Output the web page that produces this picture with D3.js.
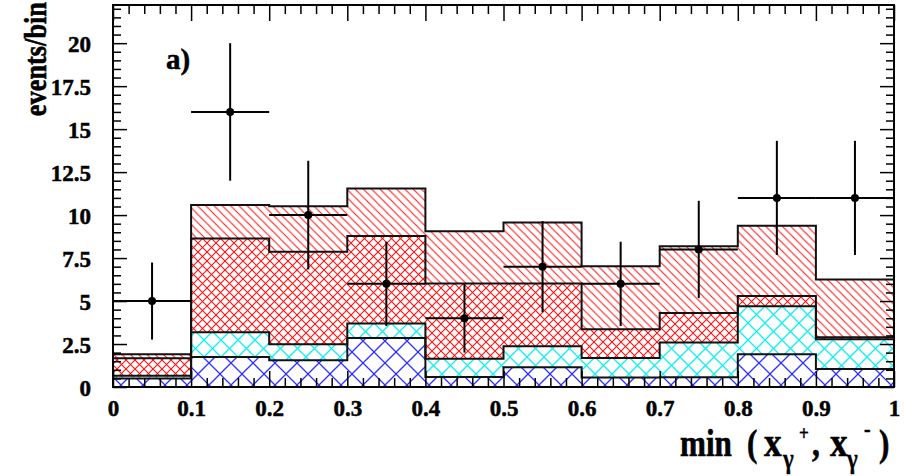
<!DOCTYPE html>
<html><head><meta charset="utf-8">
<script src="https://cdn.jsdelivr.net/npm/d3@7"></script>
<style>
html,body{margin:0;padding:0;background:#fff;}
svg{display:block;}
text{font-family:"Liberation Serif","DejaVu Serif",serif;font-weight:bold;fill:#000;}
</style></head>
<body>
<svg id="chart" width="906" height="476"></svg>
<script>
// ---- data ----
const binEdges = [0, 0.1, 0.2, 0.3, 0.4, 0.5, 0.6, 0.7, 0.8, 0.9, 1.0];
const binCenters = [0.05, 0.15, 0.25, 0.35, 0.45, 0.55, 0.65, 0.75, 0.85, 0.95];
// stacked background components (events per bin), bottom to top
const blueComp   = [0.50, 1.75, 1.55, 2.85, 0.58, 1.15, 0.55, 0.57, 1.90, 1.05];
const cyanComp   = [0.16, 1.43, 0.94, 0.84, 1.07, 1.22, 1.14, 2.02, 2.80, 1.73];
const redXComp   = [1.01, 5.46, 5.37, 5.09, 4.37, 3.65, 1.67, 1.72, 0.60, 0.12];
const redHComp   = [0.23, 1.94, 2.66, 2.77, 3.04, 3.55, 3.67, 3.88, 4.08, 3.36];
// data points
const dataValues = [5, 16, 10, 6, 4, 7, 6, 8, 11, 11];
const dataErrors = [2.24, 4.0, 3.16, 2.45, 2.0, 2.65, 2.45, 2.83, 3.32, 3.32];
// axis ticks
const xTickLabels = ["0", "0.1", "0.2", "0.3", "0.4", "0.5", "0.6", "0.7", "0.8", "0.9", "1"];
const yTickValues = [0, 2.5, 5, 7.5, 10, 12.5, 15, 17.5, 20];
const yTickLabels = ["0", "2.5", "5", "7.5", "10", "12.5", "15", "17.5", "20"];

// ---- layout ----
const L = 113, R = 894, T = 5, B = 387;
const svg = d3.select("#chart");
const x = d3.scaleLinear().domain([0, 1]).range([L, R]);
const y = d3.scaleLinear().domain([0, 22.22]).range([B, T]);

// patterns (diagonal lines drawn directly in the tile)
const defs = svg.append("defs");
function pattern(id, w, color, sw, cross) {
  const p = defs.append("pattern").attr("id", id).attr("patternUnits", "userSpaceOnUse")
    .attr("width", w).attr("height", w);
  p.append("rect").attr("width", w).attr("height", w).attr("fill", "#fff");
  p.append("path").attr("d", `M${-w},0 L${w},${2 * w} M0,${-w} L${2 * w},${w} M${-w / 2},${-w / 2} L${w * 1.5},${w * 1.5}`)
    .attr("stroke", color).attr("stroke-width", sw).attr("fill", "none");
  if (cross) p.append("path").attr("d", `M${-w / 2},${w * 1.5} L${w * 1.5},${-w / 2}`)
    .attr("stroke", color).attr("stroke-width", sw).attr("fill", "none");
}
pattern("pBlue", 22, "#3030ff", 1.3, true);
pattern("pCyan", 17, "#10f0f0", 1.3, true);
pattern("pRedX", 9, "#ff1010", 1.1, true);
pattern("pRedH", 8.3, "#ff1a1a", 1.1, false);
defs.append("clipPath").attr("id", "plotClip").append("rect")
  .attr("x", L).attr("y", T).attr("width", R - L).attr("height", B - T);

// stack
const rows = binCenters.map((c, i) => ({blue: blueComp[i], cyan: cyanComp[i], redX: redXComp[i], redH: redHComp[i]}));
const keys = ["blue", "cyan", "redX", "redH"];
const fills = {blue: "url(#pBlue)", cyan: "url(#pCyan)", redX: "url(#pRedX)", redH: "url(#pRedH)"};
const stacked = d3.stack().keys(keys)(rows);

const g = svg.append("g").attr("clip-path", "url(#plotClip)");
const idx = d3.range(binEdges.length);
stacked.forEach(layer => {
  const a = d3.area().curve(d3.curveStepAfter)
    .x(j => x(binEdges[j]))
    .y0(j => y(layer[Math.min(j, 9)][0]))
    .y1(j => y(layer[Math.min(j, 9)][1]));
  g.append("path").attr("d", a(idx)).attr("fill", fills[layer.key]).attr("stroke", "none");
});
stacked.forEach(layer => {
  const ln = d3.line().curve(d3.curveStepAfter)
    .x(j => x(binEdges[j]))
    .y(j => y(layer[Math.min(j, 9)][1]));
  g.append("path").attr("d", ln(idx)).attr("fill", "none").attr("stroke", "#111").attr("stroke-width", 2);
});

// data points with errors
const pts = svg.append("g");
binCenters.forEach((c, i) => {
  pts.append("line").attr("x1", x(binEdges[i])).attr("x2", x(binEdges[i + 1]))
    .attr("y1", y(dataValues[i])).attr("y2", y(dataValues[i])).attr("stroke", "#000").attr("stroke-width", 2);
  pts.append("line").attr("x1", x(c)).attr("x2", x(c))
    .attr("y1", y(dataValues[i] - dataErrors[i])).attr("y2", y(dataValues[i] + dataErrors[i]))
    .attr("stroke", "#000").attr("stroke-width", 2);
  pts.append("circle").attr("cx", x(c)).attr("cy", y(dataValues[i])).attr("r", 4).attr("fill", "#000");
});

// axes (ticks inside the frame)
const xMajor = binEdges;
const xMinor = d3.range(0, 50).map(k => k * 0.02).filter(v => Math.abs(v * 10 - Math.round(v * 10)) > 1e-6);
const yMinor = d3.range(0, 45).map(k => k * 0.5).filter(v => v % 2.5 !== 0 && v <= 22.2);
const yMajor = yTickValues;

function addAxis(axisGen, tx, ty) {
  const a = svg.append("g").attr("transform", `translate(${tx},${ty})`).call(axisGen);
  a.select(".domain").remove();
  a.selectAll("line").attr("stroke", "#000").attr("stroke-width", 1.5);
  return a;
}
const labelStyle = sel => sel.style("font-family", "Liberation Serif, serif").style("font-weight", "bold")
  .attr("stroke", "#000").attr("stroke-width", 0.5);
// bottom
const bx = addAxis(d3.axisBottom(x).tickValues(xMajor).tickSize(-16).tickFormat((d, i) => xTickLabels[i]).tickPadding(0), 0, B);
bx.selectAll("text").attr("font-size", 23).attr("dy", null).attr("y", 29).call(labelStyle);
addAxis(d3.axisBottom(x).tickValues(xMinor).tickSize(-9).tickFormat(""), 0, B);
// top
addAxis(d3.axisTop(x).tickValues(xMajor).tickSize(-16).tickFormat(""), 0, T);
addAxis(d3.axisTop(x).tickValues(xMinor).tickSize(-9).tickFormat(""), 0, T);
// left
const ly = addAxis(d3.axisLeft(y).tickValues(yMajor).tickSize(-14).tickFormat((d, i) => yTickLabels[i]).tickPadding(0), L, 0);
ly.selectAll("text").attr("font-size", 23).attr("x", -22).attr("dy", "0.38em").call(labelStyle);
addAxis(d3.axisLeft(y).tickValues(yMinor).tickSize(-8).tickFormat(""), L, 0);
// right
addAxis(d3.axisRight(y).tickValues(yMajor).tickSize(-14).tickFormat(""), R, 0);
addAxis(d3.axisRight(y).tickValues(yMinor).tickSize(-8).tickFormat(""), R, 0);

// frame
svg.append("rect").attr("x", L).attr("y", T).attr("width", R - L).attr("height", B - T)
  .attr("fill", "none").attr("stroke", "#000").attr("stroke-width", 2);

// labels
svg.append("text").attr("x", 166).attr("y", 69).attr("font-size", 29)
  .attr("stroke", "#000").attr("stroke-width", 0.5).text("a)");
svg.append("text").attr("transform", "translate(46,2) rotate(-90) scale(0.85,1)")
  .attr("text-anchor", "end").attr("font-size", 31)
  .attr("stroke", "#000").attr("stroke-width", 0.6).text("events/bin");

// x-axis title: min (x_γ^+, x_γ^-)
const sx = 0.82, ox = 680;
const lx = v => (v - ox) / sx;
const xt = svg.append("text").attr("transform", `translate(${ox},456) scale(${sx},1)`)
  .attr("font-size", 38).attr("stroke", "#000").attr("stroke-width", 0.6);
xt.append("tspan").attr("x", 0).attr("y", 0).text("min");
xt.append("tspan").attr("x", lx(747)).attr("y", 0).text("(");
xt.append("tspan").attr("x", lx(764)).attr("y", 0).attr("font-size", 43).text("x");
xt.append("tspan").attr("x", lx(783)).attr("y", 12).attr("font-size", 28).attr("stroke-width", 0.4).text("γ");
xt.append("tspan").attr("x", lx(799)).attr("y", 440).attr("y", -16).attr("font-size", 21).attr("stroke-width", 0.4).text("+");
xt.append("tspan").attr("x", lx(812)).attr("y", 0).text(",");
xt.append("tspan").attr("x", lx(830)).attr("y", 0).attr("font-size", 43).text("x");
xt.append("tspan").attr("x", lx(847)).attr("y", 12).attr("font-size", 28).attr("stroke-width", 0.4).text("γ");
xt.append("tspan").attr("x", lx(864)).attr("y", -19).attr("font-size", 24).attr("stroke-width", 0.4).text("-");
xt.append("tspan").attr("x", lx(879)).attr("y", 0).text(")");
</script>
</body></html>
